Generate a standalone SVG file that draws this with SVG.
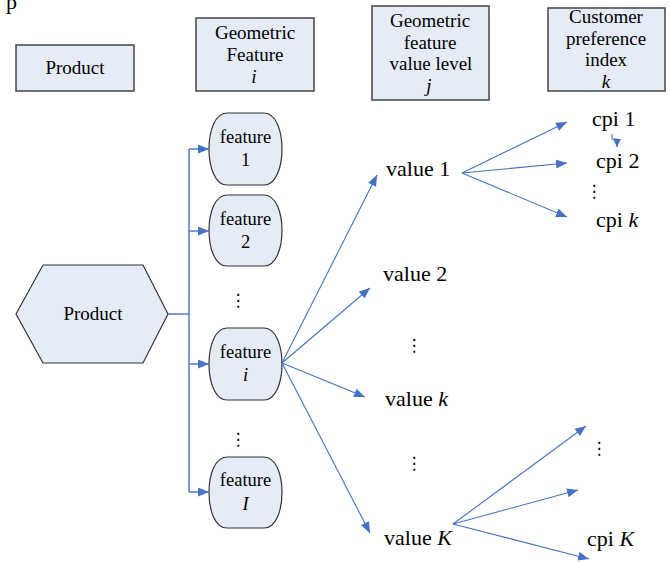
<svg xmlns="http://www.w3.org/2000/svg" width="670" height="562" viewBox="0 0 670 562">
<style>
text{font-family:"Liberation Serif","Times New Roman",serif;fill:#000;}
.hdr{font-size:19px;text-anchor:middle;}
.box{fill:#E6ECF7;stroke:#333;stroke-width:1.2;}
.hbox{fill:#E6ECF7;stroke:#444;stroke-width:1.5;}
.ft{font-size:18.5px;text-anchor:middle;}
.val{font-size:22px;}
.dots{font-family:"DejaVu Sans",sans-serif;font-size:17px;text-anchor:middle;}
.ln{fill:none;stroke:#4472C4;stroke-width:1.1;}
.tr{fill:none;stroke:#4472C4;stroke-width:1.4;}
</style>
<defs>
<marker id="ah" markerUnits="userSpaceOnUse" markerWidth="11" markerHeight="9" refX="11" refY="4.5" orient="auto">
<path d="M0,0 L11,4.5 L0,9 z" fill="#4472C4"/>
</marker>
<marker id="ahs" markerUnits="userSpaceOnUse" markerWidth="8" markerHeight="8" refX="8" refY="4" orient="auto">
<path d="M0,0 L8,4 L0,8 z" fill="#4472C4"/>
</marker>
</defs>
<rect width="670" height="562" fill="#fff"/>
<text x="6" y="9" style="font-size:22px">p</text>

<g id="hdr-product">
<rect class="hbox" x="16" y="45" width="118" height="46"/>
<text class="hdr" x="75" y="74">Product</text>
</g>
<g id="hdr-feature">
<rect class="hbox" x="196" y="18" width="118" height="73"/>
<text class="hdr" x="255" y="39">Geometric</text>
<text class="hdr" x="255" y="61">Feature</text>
<text class="hdr" x="254" y="83" font-style="italic">i</text>
</g>
<g id="hdr-value">
<rect class="hbox" x="372" y="6" width="117" height="94"/>
<text class="hdr" x="430" y="27">Geometric</text>
<text class="hdr" x="430" y="49">feature</text>
<text class="hdr" x="431" y="70">value level</text>
<text class="hdr" x="429" y="92" font-style="italic">j</text>
</g>
<g id="hdr-cpi">
<rect class="hbox" x="548" y="8" width="117" height="83"/>
<text class="hdr" x="606" y="23">Customer</text>
<text class="hdr" x="606" y="45">preference</text>
<text class="hdr" x="606" y="66">index</text>
<text class="hdr" x="606" y="88" font-style="italic">k</text>
</g>

<g id="product">
<polygon class="box" points="16,314 43,265 143,265 168,314 143,363 43,363"/>
<text x="93" y="320" style="font-size:19px;text-anchor:middle">Product</text>
</g>

<g id="feature-1">
<path class="box" d="M227,113 H264 C288,113 288,185 264,185 H227 C203,185 203,113 227,113 Z"/>
<text class="ft" x="245.5" y="143">feature</text>
<text class="ft" x="245.5" y="166">1</text>
</g>
<g id="feature-2">
<path class="box" d="M227,195 H264 C288,195 288,266 264,266 H227 C203,266 203,195 227,195 Z"/>
<text class="ft" x="245.5" y="225">feature</text>
<text class="ft" x="245.5" y="248">2</text>
</g>
<g id="feature-i">
<path class="box" d="M227,328 H264 C288,328 288,400 264,400 H227 C203,400 203,328 227,328 Z"/>
<text class="ft" x="245.5" y="358">feature</text>
<text class="ft" x="245.5" y="381" font-style="italic">i</text>
</g>
<g id="feature-I">
<path class="box" d="M227,457 H264 C288,457 288,528 264,528 H227 C203,528 203,457 227,457 Z"/>
<text class="ft" x="245.5" y="486">feature</text>
<text class="ft" x="245.5" y="510" font-style="italic">I</text>
</g>

<g id="values">
<text class="val" x="386" y="176">value 1</text>
<text class="val" x="383" y="281">value 2</text>
<text class="val" x="385" y="406">value <tspan font-style="italic">k</tspan></text>
<text class="val" x="384" y="545">value <tspan font-style="italic">K</tspan></text>
</g>
<g id="cpis">
<text class="val" x="592" y="126">cpi 1</text>
<text class="val" x="596" y="168">cpi 2</text>
<text class="val" x="596" y="227">cpi <tspan font-style="italic">k</tspan></text>
<text class="val" x="587" y="546">cpi <tspan font-style="italic">K</tspan></text>
</g>
<g id="ellipses">
<text class="dots" x="238" y="306">⋮</text>
<text class="dots" x="238" y="445">⋮</text>
<text class="dots" x="414" y="351">⋮</text>
<text class="dots" x="414" y="469">⋮</text>
<text class="dots" x="594" y="197">⋮</text>
<text class="dots" x="599" y="454">⋮</text>
</g>

<g id="connectors">
<path class="tr" d="M168,314 H189" stroke-width="2"/>
<path class="tr" d="M189,149 V492"/>
<path class="tr" d="M189,149 H209" marker-end="url(#ah)"/>
<path class="tr" d="M189,231 H209" marker-end="url(#ah)"/>
<path class="tr" d="M189,364 H209" marker-end="url(#ah)"/>
<path class="tr" d="M189,492 H209" marker-end="url(#ah)"/>

<path class="ln" d="M282,363 L377,175" marker-end="url(#ah)"/>
<path class="ln" d="M282,363 L370,288" marker-end="url(#ah)"/>
<path class="ln" d="M282,363 L365,397" marker-end="url(#ah)"/>
<path class="ln" d="M282,363 L370,533" marker-end="url(#ah)"/>

<path class="ln" d="M462,173 L567,122" marker-end="url(#ah)"/>
<path class="ln" d="M462,173 L567,163" marker-end="url(#ah)"/>
<path class="ln" d="M462,173 L567,217" marker-end="url(#ah)"/>

<path class="ln" d="M453,524 L586,426" marker-end="url(#ah)"/>
<path class="ln" d="M453,524 L578,490" marker-end="url(#ah)"/>
<path class="ln" d="M453,524 L589,559" marker-end="url(#ah)"/>

<path class="ln" d="M612,134 V139 H617 V147" marker-end="url(#ahs)"/>
</g>
</svg>
